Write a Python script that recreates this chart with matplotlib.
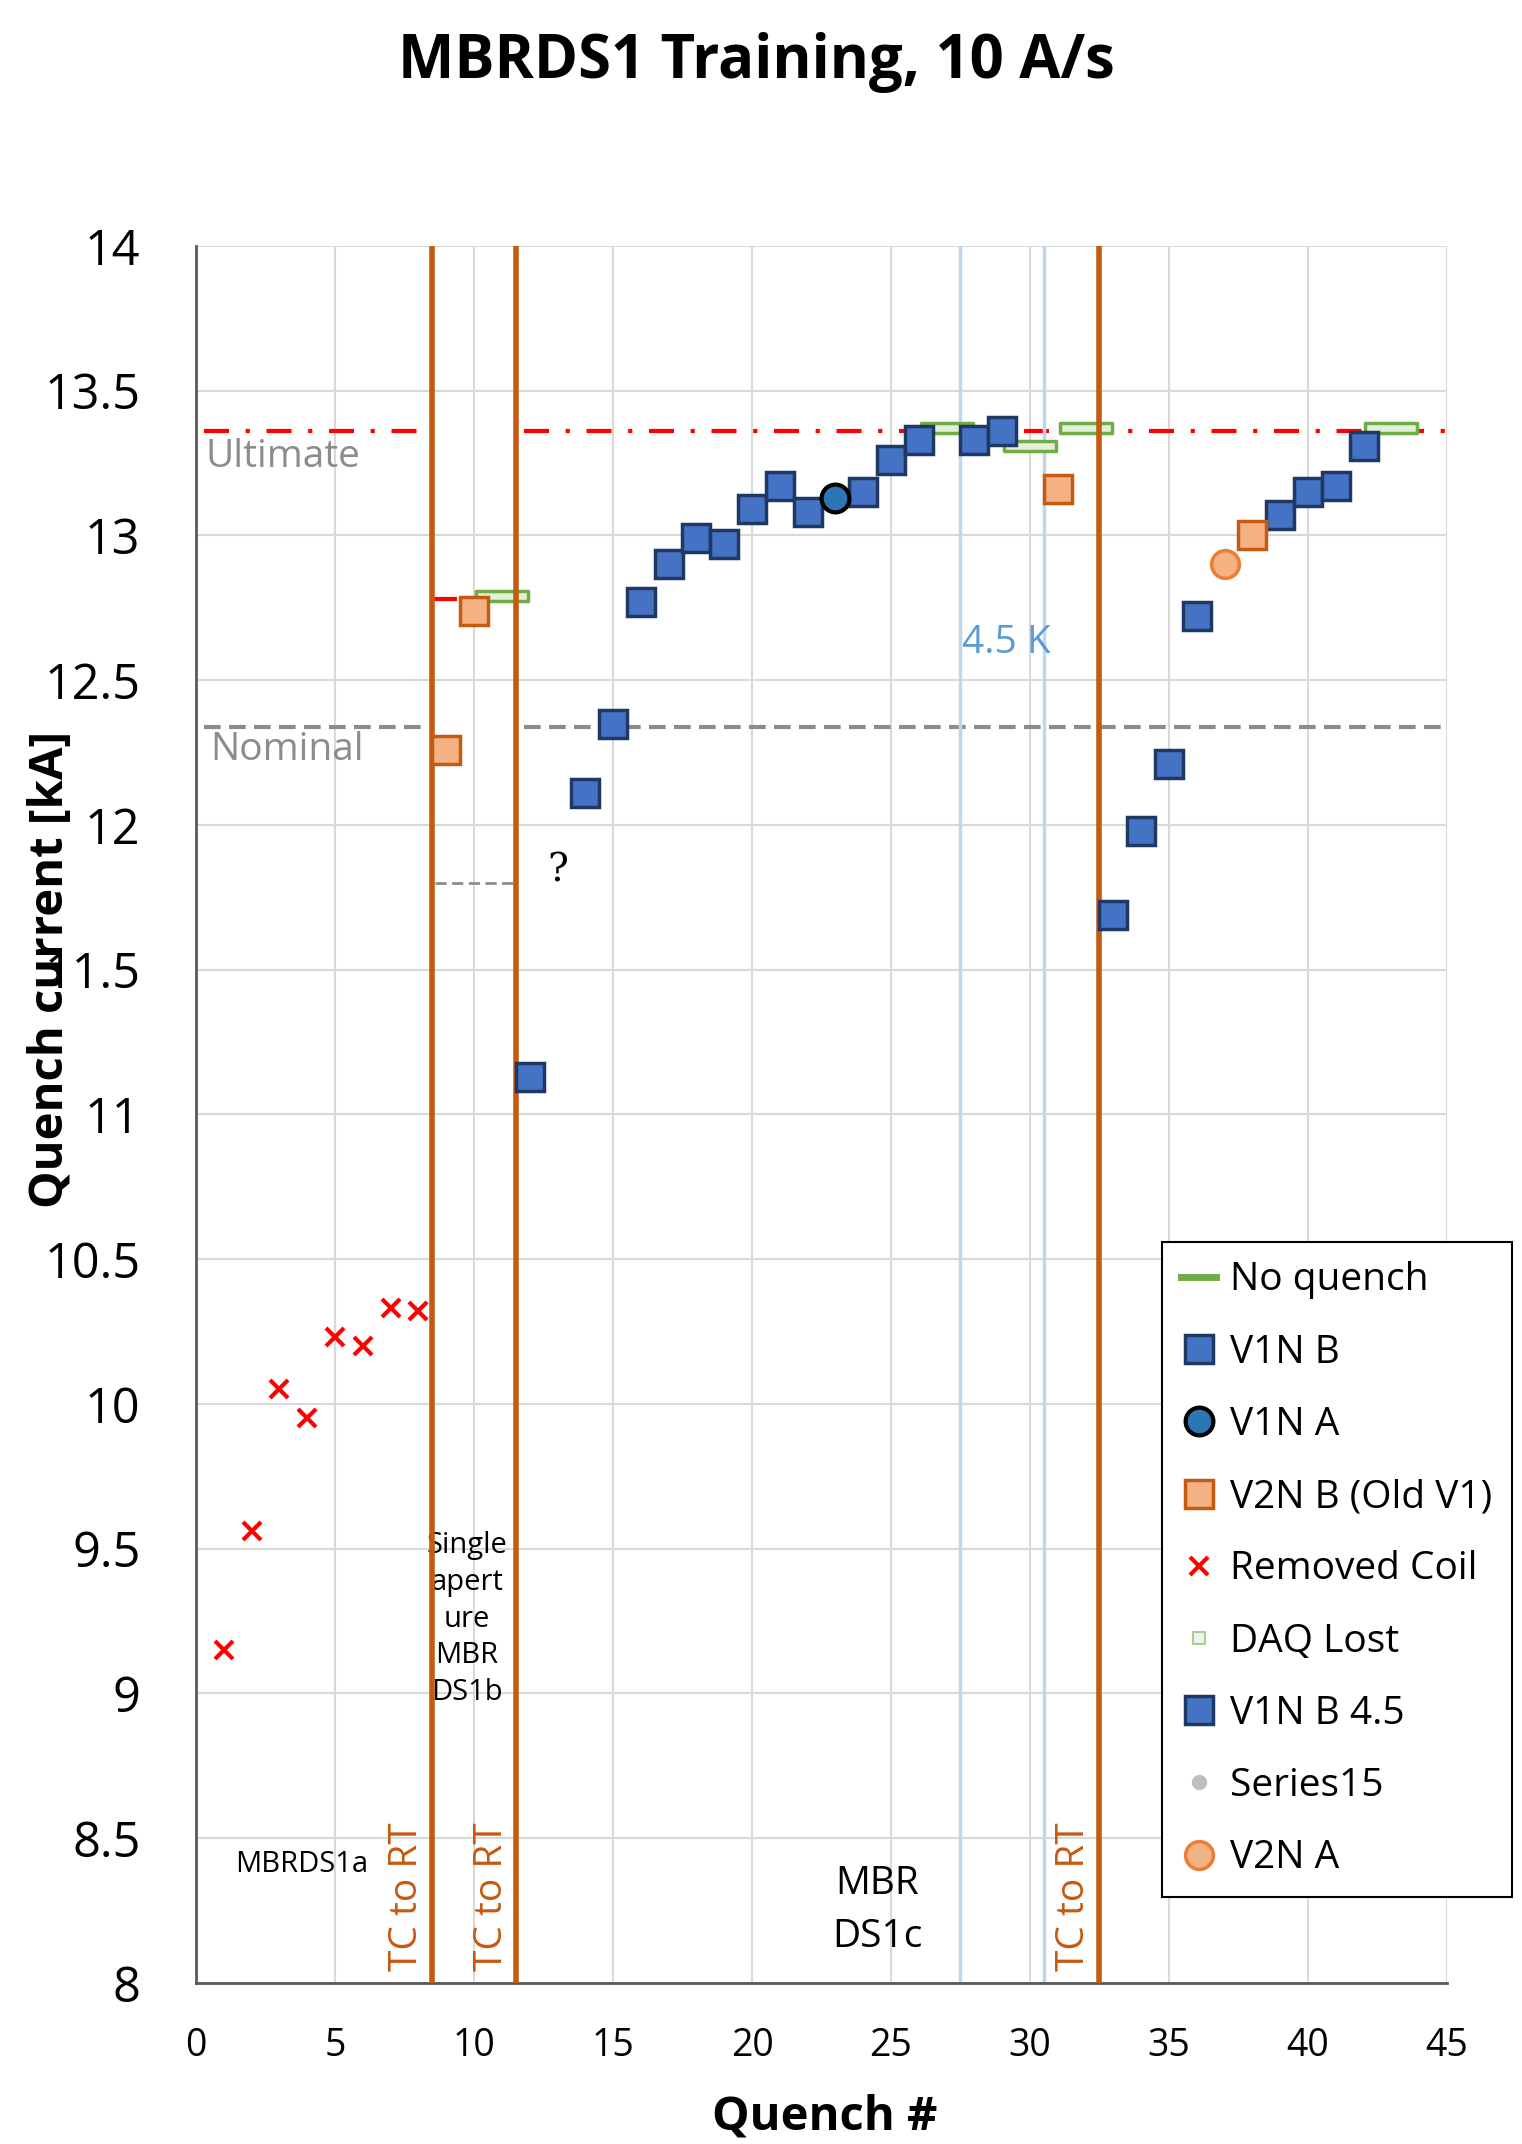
import matplotlib
matplotlib.use("Agg")
import matplotlib.pyplot as plt
from matplotlib.lines import Line2D
from matplotlib.path import Path

plt.rcParams['font.family'] = ['Open Sans', 'DejaVu Sans']

# data
removed_x = [1, 2, 3, 4, 5, 6, 7, 8]
removed_y = [9.15, 9.56, 10.05, 9.95, 10.23, 10.20, 10.33, 10.32]

v1nb_x = [12, 14, 15, 16, 17, 18, 19, 20, 21, 22, 24, 25, 26,
          33, 34, 35, 36, 39, 40, 41, 42]
v1nb_y = [11.13, 12.11, 12.35, 12.77, 12.90, 12.99, 12.97, 13.09, 13.17, 13.08,
          13.15, 13.26, 13.33, 11.69, 11.98, 12.21, 12.72, 13.07, 13.15, 13.17, 13.31]

v1nb45_x = [28, 29]
v1nb45_y = [13.33, 13.36]

v1na_x = [23]
v1na_y = [13.13]

v2nb_x = [9, 10, 31, 38]
v2nb_y = [12.26, 12.74, 13.16, 13.00]

v2na_x = [37]
v2na_y = [12.90]

noq_x = [11, 27, 30, 32, 43]
noq_y = [12.79, 13.37, 13.31, 13.37, 13.37]

ultimate = 13.36
nominal = 12.34
tc_to_rt = [8.5, 11.5, 32.5]
k45_lines = [27.5, 30.5]

# colours
BLUE, BLUE_E = '#4472C4', '#1F3864'
ORANGE, ORANGE_E = '#F4B183', '#C55A11'
GREEN, GREEN_F = '#70AD47', '#E2F0D9'
TC = '#C55A11'

bar_marker = Path([(-1, -0.2), (1, -0.2), (1, 0.2), (-1, 0.2), (-1, -0.2)],
                  [Path.MOVETO, Path.LINETO, Path.LINETO, Path.LINETO, Path.CLOSEPOLY])

fig = plt.figure(figsize=(15.22, 21.44), dpi=100)
ax = fig.add_axes([0.1288, 0.0751, 0.8219, 0.8102])

ax.set_xlim(0, 45)
ax.set_ylim(8, 14)
ax.set_xticks(range(0, 46, 5))
ax.set_yticks([8 + 0.5 * i for i in range(13)])
ax.set_yticklabels(['8', '8.5', '9', '9.5', '10', '10.5', '11', '11.5', '12',
                    '12.5', '13', '13.5', '14'])
ax.grid(True, color='#D9D9D9', lw=1.5, zorder=0)
ax.set_axisbelow(True)
for s in ['top', 'right']:
    ax.spines[s].set_visible(False)
for s in ['left', 'bottom']:
    ax.spines[s].set_color('#595959')
    ax.spines[s].set_linewidth(2)
ax.tick_params(axis='y', length=0, labelsize=35, pad=40)
ax.tick_params(axis='x', length=0, labelsize=27, pad=32)

# reference lines
dd = (0, (6, 4, 1, 4))
ax.plot([0.3, 8.3], [ultimate, ultimate], color='red', lw=3, ls=dd, zorder=1)
ax.plot([11.8, 45], [ultimate, ultimate], color='red', lw=3, ls=dd, zorder=1)
ax.plot([8.5, 11.5], [12.78, 12.78], color='red', lw=3, ls=dd, zorder=1)
ax.plot([0.3, 8.3], [nominal, nominal], color='#8C8C8C', lw=3, ls=(0, (4, 2)), zorder=1)
ax.plot([11.8, 45], [nominal, nominal], color='#8C8C8C', lw=3, ls=(0, (4, 2)), zorder=1)
ax.plot([8.6, 11.5], [11.8, 11.8], color='#8C8C8C', lw=2, ls=(0, (4, 2)), zorder=1)

for xv in k45_lines:
    ax.axvline(xv, color='#BDD7EE', lw=2.5, zorder=2)

# series
ax.plot(noq_x, noq_y, ls='none', marker=bar_marker, ms=38, mfc=GREEN_F, mec=GREEN,
        mew=2.5, zorder=3)
for xv in tc_to_rt:
    ax.axvline(xv, color=TC, lw=4, zorder=4)
ax.plot(removed_x, removed_y, ls='none', marker='x', ms=13, mec='red', mew=3, zorder=5)
ax.plot(v1nb_x, v1nb_y, ls='none', marker='s', ms=19.5, mfc=BLUE, mec=BLUE_E, mew=2.5, zorder=5)
ax.plot(v1nb45_x, v1nb45_y, ls='none', marker='s', ms=19.5, mfc=BLUE, mec=BLUE_E, mew=2.5, zorder=5)
ax.plot(v1na_x, v1na_y, ls='none', marker='o', ms=20, mfc='#2E75B6', mec='black', mew=3, zorder=6)
ax.plot(v2nb_x, v2nb_y, ls='none', marker='s', ms=19.5, mfc=ORANGE, mec=ORANGE_E, mew=2.5, zorder=5)
ax.plot(v2na_x, v2na_y, ls='none', marker='o', ms=20, mfc=ORANGE, mec='#ED7D31', mew=2.5, zorder=5)

# annotations
ax.text(0.35, 13.27, 'Ultimate', color='#8C8C8C', fontsize=28, va='center', ha='left')
ax.text(0.5, 12.26, 'Nominal', color='#8C8C8C', fontsize=28, va='center', ha='left')
ax.text(27.55, 12.63, '4.5 K', color='#5B9BD5', fontsize=28, va='center', ha='left')
ax.text(13.0, 11.84, '?', family='DejaVu Serif', fontsize=28, va='center', ha='center')
ax.text(3.8, 8.41, 'MBRDS1a', fontsize=21, va='center', ha='center')
ax.text(9.75, 9.56, 'Single\napert\nure\nMBR\nDS1b', fontsize=21, va='top', ha='center',
        linespacing=1.35)
ax.text(24.5, 8.25, 'MBR\nDS1c', fontsize=28, va='center', ha='center', linespacing=1.5)
for xt in [7.6, 10.65, 31.6]:
    ax.text(xt, 8.04, 'TC to RT', color=TC, fontsize=28, rotation=90,
            va='bottom', ha='center')

# titles
fig.text(0.497, 0.971, 'MBRDS1 Training, 10 A/s', fontsize=43, fontweight='bold',
         ha='center', va='center')
fig.text(0.0335, 0.5476, 'Quench current [kA]', fontsize=34, fontweight='bold',
         rotation=90, ha='center', va='center')
fig.text(0.5417, 0.0126, 'Quench #', fontsize=34, fontweight='bold', ha='center', va='center')

# legend
handles = [
    Line2D([], [], color=GREEN, lw=5),
    Line2D([], [], ls='none', marker='s', ms=20, mfc=BLUE, mec=BLUE_E, mew=2.5),
    Line2D([], [], ls='none', marker='o', ms=20, mfc='#2E75B6', mec='black', mew=3),
    Line2D([], [], ls='none', marker='s', ms=20, mfc=ORANGE, mec=ORANGE_E, mew=2.5),
    Line2D([], [], ls='none', marker='x', ms=13, mec='red', mew=3),
    Line2D([], [], ls='none', marker='s', ms=9, mfc='#F2F2F2', mec='#A9D18E', mew=1.5),
    Line2D([], [], ls='none', marker='s', ms=20, mfc=BLUE, mec=BLUE_E, mew=2.5),
    Line2D([], [], ls='none', marker='o', ms=10, mfc='#BFBFBF', mec='#BFBFBF'),
    Line2D([], [], ls='none', marker='o', ms=20, mfc=ORANGE, mec='#ED7D31', mew=2.5),
]
labels = ['No quench', 'V1N B', 'V1N A', 'V2N B (Old V1)', 'Removed Coil', 'DAQ Lost',
          'V1N B 4.5', 'Series15', 'V2N A']
leg = fig.legend(handles, labels, loc='upper left', bbox_to_anchor=(0.7635, 0.4207),
                 bbox_transform=fig.transFigure, fontsize=28, frameon=True, fancybox=False,
                 edgecolor='black', framealpha=1, handlelength=0.9, handletextpad=0.35,
                 labelspacing=0.88, borderpad=0.5, borderaxespad=0)
leg.get_frame().set_linewidth(1.5)

fig.savefig('out.png', dpi=100)
